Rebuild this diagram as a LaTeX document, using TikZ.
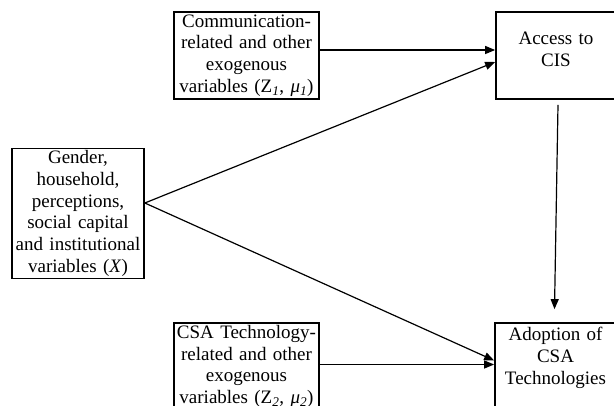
\documentclass[tikz,border=0pt]{standalone}
\usepackage{fontspec}
\setmainfont{Liberation Serif}
\usetikzlibrary{arrows.meta,calc}
\newcommand\boxfont{\fontsize{19}{21.7}\selectfont}

\begin{document}
\begin{tikzpicture}[x=1pt,y=-1pt,box/.style={draw,line width=1.7pt,inner sep=2pt,minimum height=87pt,align=center,font=\boxfont},arrow/.style={-{Triangle[length=10pt,width=8pt]},line width=1.2pt}]
\useasboundingbox (0,0) rectangle (614,406); \clip (0,0) rectangle (614,406);
% boxes
\node[box,text width=141pt] (comm) at (246.5,55.5) {Communication-\\related and other\\exogenous\\variables (Z\textsubscript{\itshape 1}, \textit{μ}\textsubscript{\itshape 1})};
\node[box,text width=116pt] (access) at (556,55.5) {\mbox{}\\Access to\\CIS\\\mbox{}};
\node[box,text width=128pt,minimum height=129pt] (factors) at (78,213.5) {Gender,\\household,\\perceptions,\\social capital\\and institutional\\variables (\textit{X})};
\node[box,text width=141pt] (csa) at (246.5,366.5) {\makebox[\linewidth]{CSA Technology-}\\related and other\\exogenous\\variables (Z\textsubscript{\itshape 2}, \textit{μ}\textsubscript{\itshape 2})};
\node[box,text width=117pt] (adopt) at (555.5,366.5) {Adoption of\\CSA\\Technologies\\\mbox{}};
% arrows
\draw[arrow] ([yshift=5.5pt]comm.east) -- ([yshift=5.5pt]access.west);
\draw[arrow] ([yshift=10.5pt]factors.east) -- ([yshift=-6.5pt]access.west);
\draw[arrow] ([yshift=10.5pt]factors.east) -- ([yshift=6pt]adopt.west);
\draw[arrow] ([yshift=2pt]csa.east) -- ([yshift=2pt]adopt.west);
\draw[arrow] ([shift={(2pt,-5pt)}]access.south) -- ([shift={(-1pt,13pt)}]adopt.north);
\end{tikzpicture}
\end{document}
